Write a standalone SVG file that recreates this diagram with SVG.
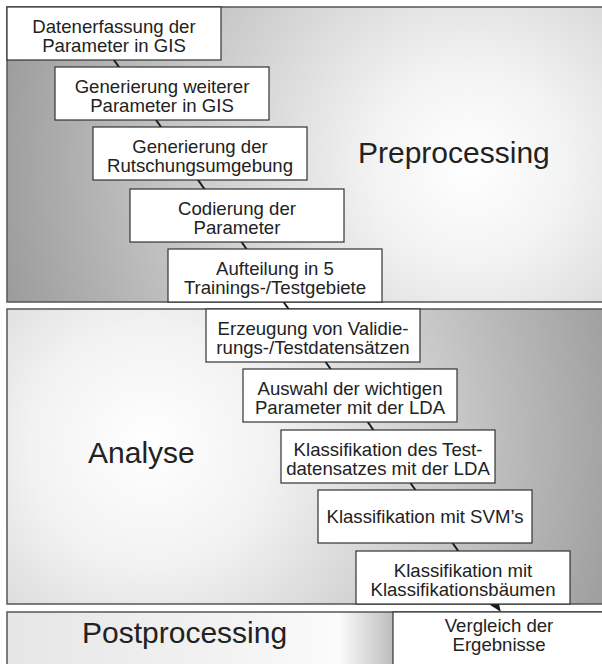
<svg xmlns="http://www.w3.org/2000/svg" width="602" height="664" viewBox="0 0 602 664">
<defs>
<radialGradient id="gPre" gradientUnits="userSpaceOnUse" cx="470" cy="165" r="480">
<stop offset="0" stop-color="#ffffff"/>
<stop offset="0.2" stop-color="#f3f3f3"/>
<stop offset="0.6" stop-color="#c8c8c8"/>
<stop offset="1" stop-color="#9c9c9c"/>
</radialGradient>
<radialGradient id="gAna" gradientUnits="userSpaceOnUse" cx="150" cy="445" r="480">
<stop offset="0" stop-color="#ffffff"/>
<stop offset="0.25" stop-color="#f2f2f2"/>
<stop offset="0.65" stop-color="#c6c6c6"/>
<stop offset="1" stop-color="#9e9e9e"/>
</radialGradient>
<linearGradient id="gPost" gradientUnits="userSpaceOnUse" x1="7" y1="0" x2="393" y2="0">
<stop offset="0" stop-color="#e6e6e6"/>
<stop offset="0.55" stop-color="#f2f2f2"/>
<stop offset="0.86" stop-color="#fbfbfb"/>
<stop offset="1" stop-color="#bdbdbd"/>
</linearGradient>
<marker id="arr" markerUnits="userSpaceOnUse" markerWidth="14" markerHeight="12" refX="10" refY="5" orient="auto">
<path d="M0,0 L12,5 L0,10 z" fill="#1a1a1a"/>
</marker>
<style>
.panel{stroke:#555;stroke-width:1.5}
.box{fill:#fff;stroke:#333;stroke-width:1.2}
.t{font-family:"Liberation Sans",Arial,sans-serif;font-size:18.6px;fill:#222;text-anchor:middle}
.big{font-family:"Liberation Sans",Arial,sans-serif;font-size:30px;fill:#222}
.c{stroke:#1a1a1a;stroke-width:2;fill:none}
</style>
</defs>
<g id="panels">
<g id="panel-pre"><rect class="panel" x="7" y="7" width="610" height="295" fill="url(#gPre)"/><text class="big" x="358" y="163">Preprocessing</text></g>
<g id="panel-ana"><rect class="panel" x="7" y="309" width="610" height="295" fill="url(#gAna)"/><text class="big" x="88" y="463">Analyse</text></g>
<g id="panel-post"><rect class="panel" x="7" y="612" width="610" height="70" fill="url(#gPost)"/><text class="big" x="82" y="643">Postprocessing</text></g>
</g>
<g id="connectors">
<line class="c" x1="112.6" y1="58" x2="120.3" y2="69"/>
<line class="c" x1="154.7" y1="118" x2="162.4" y2="129"/>
<line class="c" x1="196.7" y1="178" x2="205.8" y2="191"/>
<line class="c" x1="240.2" y1="240" x2="247.9" y2="251"/>
<line class="c" x1="282.2" y1="300" x2="290.0" y2="311"/>
<line class="c" x1="324.3" y1="360" x2="332.0" y2="371"/>
<line class="c" x1="366.4" y1="420" x2="374.8" y2="432"/>
<line class="c" x1="409.1" y1="481" x2="416.8" y2="492"/>
<line class="c" x1="451.2" y1="541" x2="459.6" y2="553"/>
<line class="c" x1="492.5" y1="600" x2="499.6" y2="610" marker-end="url(#arr)"/>
</g>
<g id="n1"><rect class="box" x="7" y="7" width="214" height="53"/><text class="t" x="114" y="33">Datenerfassung der</text><text class="t" x="114" y="52">Parameter in GIS</text></g>
<g id="n2"><rect class="box" x="55" y="67" width="214" height="53"/><text class="t" x="162" y="93">Generierung weiterer</text><text class="t" x="162" y="112">Parameter in GIS</text></g>
<g id="n3"><rect class="box" x="93" y="127" width="214" height="53"/><text class="t" x="200" y="153">Generierung der</text><text class="t" x="200" y="172">Rutschungsumgebung</text></g>
<g id="n4"><rect class="box" x="130" y="189" width="214" height="53"/><text class="t" x="237" y="215">Codierung der</text><text class="t" x="237" y="234">Parameter</text></g>
<g id="n5"><rect class="box" x="168" y="249" width="214" height="53"/><text class="t" x="275" y="275">Aufteilung in 5</text><text class="t" x="275" y="294">Trainings-/Testgebiete</text></g>
<g id="n6"><rect class="box" x="206" y="309" width="214" height="53"/><text class="t" x="313" y="335">Erzeugung von Validie-</text><text class="t" x="313" y="354">rungs-/Testdatensätzen</text></g>
<g id="n7"><rect class="box" x="243" y="369" width="214" height="53"/><text class="t" x="350" y="395">Auswahl der wichtigen</text><text class="t" x="350" y="414">Parameter mit der LDA</text></g>
<g id="n8"><rect class="box" x="281" y="430" width="214" height="53"/><text class="t" x="388" y="456">Klassifikation des Test-</text><text class="t" x="388" y="475">datensatzes mit der LDA</text></g>
<g id="n9"><rect class="box" x="318" y="490" width="214" height="53"/><text class="t" x="425" y="523">Klassifikation mit SVM’s</text></g>
<g id="n10"><rect class="box" x="356" y="551" width="214" height="53"/><text class="t" x="463" y="577">Klassifikation mit</text><text class="t" x="463" y="596">Klassifikationsbäumen</text></g>
<g id="n11"><rect class="box" x="393" y="612" width="214" height="60"/><text class="t" x="499" y="632">Vergleich der</text><text class="t" x="499" y="651">Ergebnisse</text></g>
</svg>
